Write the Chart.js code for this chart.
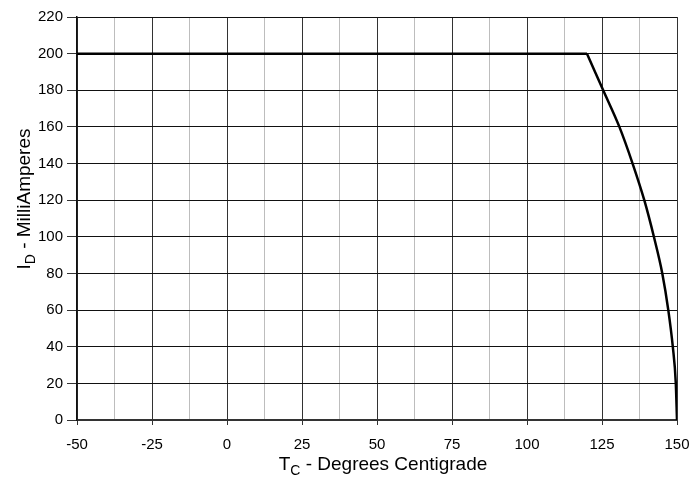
<!DOCTYPE html>
<html>
<head>
<meta charset="utf-8">
<script src="https://cdn.jsdelivr.net/npm/chart.js@4/dist/chart.umd.min.js"></script>
<style>
  html, body { margin: 0; padding: 0; background: #fff; }
  #wrap { width: 693px; height: 480px; position: relative; }
</style>
</head>
<body>
<div id="wrap"><canvas id="c" width="693" height="480"></canvas></div>
<script>
// Data
const temperatures = [-50, 120, 125.4, 130.8, 135.2, 139.1, 142.3, 145.1, 147.1, 148.6, 149.6, 150];
const drainCurrent = [200, 200, 180, 160, 140, 120, 100, 80, 60, 40, 20, 0];
const xTickValues = [-50, -25, 0, 25, 50, 75, 100, 125, 150];
const yTickValues = [0, 20, 40, 60, 80, 100, 120, 140, 160, 180, 200, 220];
const xTitleMain = 'T', xTitleSub = 'C', xTitleRest = ' - Degrees Centigrade';
const yTitleMain = 'I', yTitleSub = 'D', yTitleRest = ' - MilliAmperes';

const FONT = '"Liberation Sans", Arial, sans-serif';

const points = temperatures.map((t, i) => ({ x: t, y: drainCurrent[i] }));
const flatPart = points.slice(0, 2);   // constant-current region
const deratePart = points.slice(1);    // derating curve

function drawSubTitle(ctx, main, sub, rest, size) {
  const subSize = Math.round(size * 0.75);
  ctx.font = size + 'px ' + FONT;
  const w1 = ctx.measureText(main).width;
  const w3 = ctx.measureText(rest).width;
  ctx.font = subSize + 'px ' + FONT;
  const w2 = ctx.measureText(sub).width;
  const total = w1 + w2 + w3;
  let x = -total / 2;
  ctx.textBaseline = 'middle';
  ctx.textAlign = 'left';
  ctx.fillStyle = '#000';
  ctx.font = size + 'px ' + FONT;
  ctx.fillText(main, x, 0); x += w1;
  ctx.font = subSize + 'px ' + FONT;
  ctx.fillText(sub, x, size * 0.3); x += w2;
  ctx.font = size + 'px ' + FONT;
  ctx.fillText(rest, x, 0);
}

const titlesPlugin = {
  id: 'subTitles',
  afterDraw(chart) {
    const ctx = chart.ctx;
    const area = chart.chartArea;
    ctx.save();
    ctx.translate((area.left + area.right) / 2 + 6, 465);
    drawSubTitle(ctx, xTitleMain, xTitleSub, xTitleRest, 19);
    ctx.restore();
    ctx.save();
    ctx.translate(25, 199);
    ctx.rotate(-Math.PI / 2);
    drawSubTitle(ctx, yTitleMain, yTitleSub, yTitleRest, 19);
    ctx.restore();
  }
};

const lineStyle = {
  showLine: true,
  borderColor: '#000',
  borderWidth: 2.5,
  pointRadius: 0,
  fill: false,
  borderJoinStyle: 'miter'
};

new Chart(document.getElementById('c'), {
  type: 'scatter',
  data: {
    datasets: [
      Object.assign({ data: flatPart, tension: 0 }, lineStyle),
      Object.assign({ data: deratePart, cubicInterpolationMode: 'monotone' }, lineStyle)
    ]
  },
  options: {
    responsive: false,
    animation: false,
    events: [],
    layout: { padding: { top: 17, right: 16, left: 0, bottom: 0 } },
    plugins: { legend: { display: false }, tooltip: { enabled: false }, title: { display: false } },
    scales: {
      x: {
        type: 'linear',
        min: -50, max: 150,
        afterBuildTicks(scale) {
          const t = [];
          for (let i = 0; i < xTickValues.length; i++) {
            t.push({ value: xTickValues[i] });
            if (i < xTickValues.length - 1) t.push({ value: (xTickValues[i] + xTickValues[i + 1]) / 2 });
          }
          scale.ticks = t;
        },
        afterFit(scale) { scale.height = 60; scale.paddingLeft = 0; scale.paddingRight = 0; },
        ticks: {
          autoSkip: false, maxRotation: 0, color: '#000', padding: 11,
          font: { family: FONT, size: 15 },
          callback: (v) => xTickValues.includes(v) ? String(v) : ''
        },
        grid: {
          color: (c) => (c.tick && xTickValues.includes(c.tick.value)) ? '#333' : '#bdbdbd',
          tickColor: (c) => (c.tick && xTickValues.includes(c.tick.value)) ? '#333' : 'rgba(0,0,0,0)',
          lineWidth: 1,
          tickLength: 5
        },
        border: { color: '#333', width: 2 }
      },
      y: {
        type: 'linear',
        min: 0, max: 220,
        afterBuildTicks(scale) { scale.ticks = yTickValues.map(v => ({ value: v })); },
        afterFit(scale) { scale.width = 77; scale.paddingTop = 0; scale.paddingBottom = 0; },
        ticks: { color: '#000', padding: 4, font: { family: FONT, size: 15 } },
        grid: { color: '#111', lineWidth: 1, tickLength: 10, tickColor: '#333' },
        border: { color: '#111', width: 1.5 }
      }
    }
  },
  plugins: [titlesPlugin]
});
</script>
</body>
</html>
